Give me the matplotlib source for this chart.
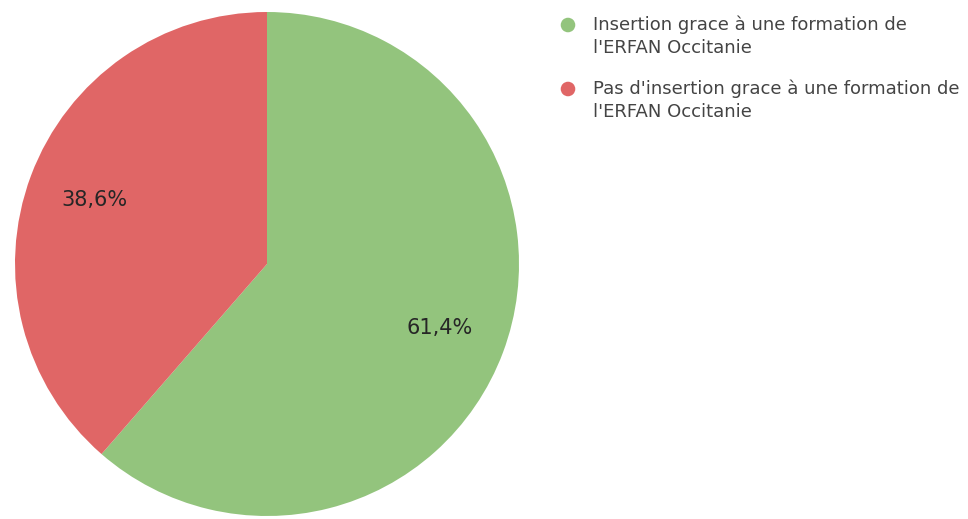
import matplotlib
matplotlib.use('Agg')

import matplotlib.pyplot as plt

# data
labels = ["Insertion grace à une formation de\nl'ERFAN Occitanie",
          "Pas d'insertion grace à une formation de\nl'ERFAN Occitanie"]
shares = [61.4, 38.6]
colors = ['#93c47d', '#e06666']

W, H = 968, 519
fig = plt.figure(figsize=(W / 100, H / 100), dpi=100)
fig.patch.set_facecolor('white')

# pie, centre ~ (267, 264) px, radius ~252 px
cx, cy, r = 267, 264, 252
ax = fig.add_axes([(cx - r) / W, (H - cy - r) / H, 2 * r / W, 2 * r / H])
ax.pie(shares, colors=colors, startangle=90, counterclock=False,
       radius=1.0, pctdistance=0.73,
       autopct=lambda p: '{:.1f}%'.format(p).replace('.', ','),
       wedgeprops=dict(linewidth=0),
       textprops=dict(fontsize=15, color='#262626'))
ax.set_xlim(-1, 1)
ax.set_ylim(-1, 1)
ax.axis('off')

# legend drawn by hand so the marker sits on the first line
lax = fig.add_axes([0, 0, 1, 1])
lax.set_xlim(0, W)
lax.set_ylim(H, 0)
lax.axis('off')
rows = [25, 89]
for y0, lab, col in zip(rows, labels, colors):
    lax.scatter([568], [y0], s=110, color=col, edgecolors='none')
    for k, line in enumerate(lab.split('\n')):
        lax.text(593, y0 + k * 23, line, fontsize=13, color='#444444',
                 va='center', ha='left')

fig.savefig('out.png', dpi=100, facecolor='white')
